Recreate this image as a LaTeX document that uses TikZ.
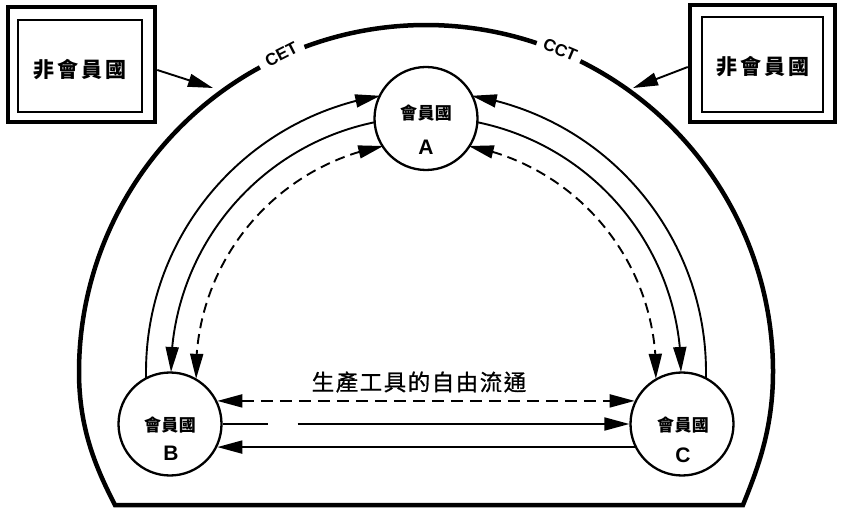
\documentclass[tikz,border=0pt]{standalone}
\usepackage{fontspec}
\setmainfont{Liberation Sans}
\newfontfamily\cjk{Noto Sans CJK TC}
\newfontfamily\cjkmed[FakeBold=0.8]{Noto Sans CJK TC}
\usetikzlibrary{arrows.meta,calc,bending}
\begin{document}
\begin{tikzpicture}[x=1pt,y=1pt,
  >={Triangle[length=25pt,width=13pt]},
  dome/.style={line width=4.5pt},
  conn/.style={line width=1.9pt},
  dsh/.style={conn,dash pattern=on 10pt off 6pt},
  hdsh/.style={conn,dash pattern=on 12pt off 7pt},
  member/.style={circle,draw,line width=2.3pt,minimum size=103pt,inner sep=0pt},
  mtext/.style={inner sep=0pt,font=\cjk\bfseries\fontsize{17pt}{20pt}\selectfont},
  letter/.style={inner sep=0pt,font=\bfseries\fontsize{21pt}{24pt}\selectfont},
  outerbox/.style={draw,line width=4.5pt,inner sep=0pt},
  innerbox/.style={draw,line width=2pt,inner sep=0pt},
  boxtext/.style={inner sep=0pt,font=\cjk\bfseries\fontsize{21pt}{24pt}\selectfont},
  tariff/.style={inner sep=0pt,font=\bfseries\fontsize{17pt}{18pt}\selectfont},
  flowtext/.style={inner sep=0pt,font=\cjkmed\fontsize{22.5pt}{26pt}\selectfont}
]
\useasboundingbox (0,0) rectangle (842,511);
\coordinate (O) at (426,139);

% dome (customs union border)
\draw[dome] ($(O)+(118.6:347)$) arc[start angle=118.6,end angle=180,radius=347]
  .. controls (79,81) and (97,41) .. (115,6) -- (743,6)
  .. controls (757,41) and (773,81) .. (773,139)
  arc[start angle=0,end angle=63.6,radius=347];
\draw[dome] ($(O)+(71.4:347)$) arc[start angle=71.4,end angle=110.5,radius=347];
\node[tariff,rotate=27] (cet) at ($(O)+(114.5:349)$) {CET};
\node[tariff,rotate=-23] (cct) at ($(O)+(67.4:349)$) {CCT};

% non-member boxes
\node[outerbox,minimum width=147pt,minimum height=115pt] (N1) at (81.5,446.5) {};
\node[innerbox,minimum width=124pt,minimum height=92pt] (N1in) at (80,445) {};
\node[boxtext] (N1t) at (80,441) {非\hspace{3pt}會\hspace{3pt}員\hspace{3pt}國};
\node[outerbox,minimum width=145pt,minimum height=117pt] (N2) at (762.5,447.5) {};
\node[innerbox,minimum width=121pt,minimum height=95pt] (N2in) at (762.5,446.5) {};
\node[boxtext] (N2t) at (763,444) {非\hspace{3pt}會\hspace{3pt}員\hspace{3pt}國};
\coordinate (d1) at (213,423);
\coordinate (d2) at (633,423);
\draw[conn,->] ([yshift=-5.5pt]N1.east) -- (d1);
\draw[conn,->] ([yshift=-3.5pt]N2.west) -- (d2);

% member circles
\node[member] (A) at (426,392.5) {};
\node[member] (B) at (170,87) {};
\node[member] (C) at (682,87) {};
\node[mtext] (At) at (426,398) {會\hspace{0.5pt}員\hspace{0.5pt}國};
\node[letter] (Al) at (426,364) {A};
\node[mtext] (Bt) at (170,86) {會\hspace{0.5pt}員\hspace{0.5pt}國};
\node[letter] (Bl) at (171,58) {B};
\node[mtext] (Ct) at (683,86) {會\hspace{0.5pt}員\hspace{0.5pt}國};
\node[letter] (Cl) at (683,56) {C};

% arcs A--B
\draw[conn,->] ($(O)+(181.2:280)$) arc[start angle=181.2,end angle=99.4,radius=280];
\draw[conn,->] ($(O)+(101.5:255)$) arc[start angle=101.5,end angle=180.0,radius=255];
\draw[dsh,<->] ($(O)+(100.7:230)$) arc[start angle=100.7,end angle=181.7,radius=230];
% arcs A--C
\draw[conn,->] ($(O)+(-1.2:280)$) arc[start angle=-1.2,end angle=80.6,radius=280];
\draw[conn,->] ($(O)+(78.5:255)$) arc[start angle=78.5,end angle=0.0,radius=255];
\draw[dsh,<->] ($(O)+(79.3:230)$) arc[start angle=79.3,end angle=-1.7,radius=230];

% horizontal flows B--C
\draw[hdsh,<->] (B.26) -- (C.154);
\draw[conn,->,dash pattern=on 45pt off 30pt on 600pt off 1pt] (B.east) -- (C.west);
\draw[conn,->] (C.206) -- (B.-26);
\node[flowtext] (flow) at (419,129) {生\hspace{1.5pt}產\hspace{1.5pt}工\hspace{1.5pt}具\hspace{1.5pt}的\hspace{1.5pt}自\hspace{1.5pt}由\hspace{1.5pt}流\hspace{1.5pt}通};
\end{tikzpicture}
\end{document}
